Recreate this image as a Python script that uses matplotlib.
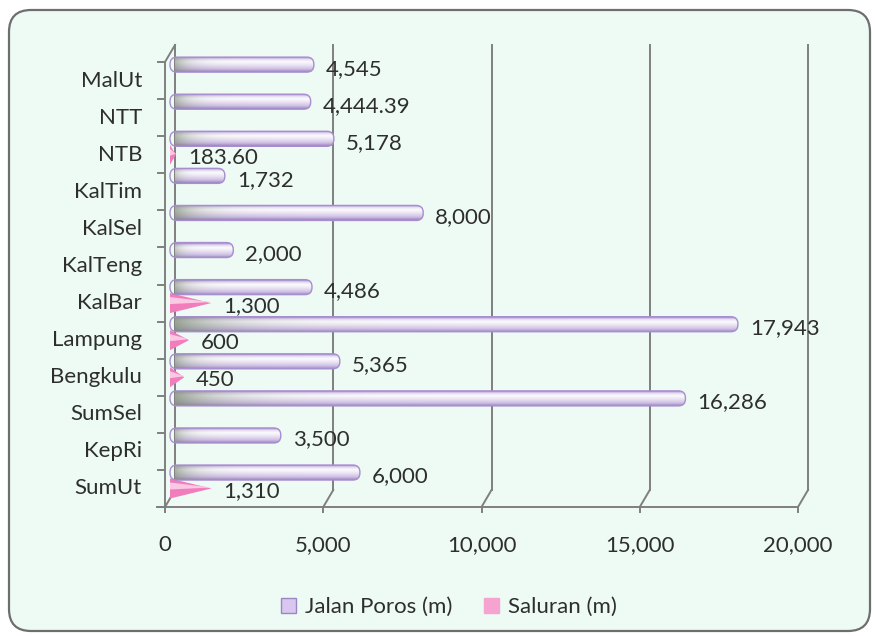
import numpy as np
import matplotlib
matplotlib.use("Agg")
import matplotlib.pyplot as plt
import matplotlib.patches as ptc
from matplotlib.colors import to_rgb

plt.rcParams['font.family'] = ['Lato', 'DejaVu Sans']

# Donnees (de bas en haut)
provinsi = ["SumUt", "KepRi", "SumSel", "Bengkulu", "Lampung", "KalBar",
            "KalTeng", "KalSel", "KalTim", "NTB", "NTT", "MalUt"]
jalan_poros = [6000, 3500, 16286, 5365, 17943, 4486, 2000, 8000, 1732, 5178, 4444.39, 4545]
saluran = [1310, None, None, 450, 600, 1300, None, None, None, 183.60, None, None]
xticks = [0, 5000, 10000, 15000, 20000]
legende = ["Jalan Poros (m)", "Saluran (m)"]

W, H = 875, 636
xmax = 20000
px_x = xmax/633.0       # unites x par pixel
px_y = 12/445.0         # unites y par pixel
fs = 16
txt_col = "#2e2e2e"
grid_col = "#7f7f7f"


def fmt(v):
    return f"{v:,.2f}" if v % 1 else f"{v:,.0f}"


def prof(x, y, d):
    # decalage de profondeur : d=0 paroi du fond, d=1 face avant
    return x - 10*px_x*d, y - 17*px_y*d


fig = plt.figure(figsize=(W/100, H/100), dpi=100)
fig.patch.set_facecolor("white")

cadre = ptc.FancyBboxPatch((0.09, 0.05), 8.61, 6.21,
                           boxstyle="round,pad=0,rounding_size=0.22",
                           transform=fig.dpi_scale_trans, facecolor="#eefbf4",
                           edgecolor="#6e6e6e", linewidth=1.6, zorder=-5)
fig.add_artist(cadre)

ax = fig.add_axes([175/W, 1-490/H, 633/W, 445/H])
ax.set_xlim(0, xmax)
ax.set_ylim(0, 12)
ax.axis("off")

# paroi du fond + liaisons au sol
for v in xticks:
    ax.plot([v, v], [0, 12], color=grid_col, lw=1.4, clip_on=False, zorder=1)
    x0, y0 = prof(v, 0, 1)
    ax.plot([v, x0], [0, y0], color=grid_col, lw=1.4, clip_on=False, zorder=1)
    ax.plot([x0, x0], [y0, y0 - 5*px_y], color=grid_col, lw=1.4, clip_on=False)
    ax.text(x0, y0 - 38*px_y, fmt(v), ha="center", va="center", fontsize=fs,
            color=txt_col)

# sol
xa, ya = prof(0, 0, 1)
xb, yb = prof(xmax, 0, 1)
ax.plot([xa - 8*px_x, xb], [ya, yb], color=grid_col, lw=1.4, clip_on=False)

# paroi laterale
xt, yt = prof(0, 12, 1)
ax.plot([xa, xt], [ya, yt], color=grid_col, lw=1.4, clip_on=False)
ax.plot([xt, 0], [yt, 12], color=grid_col, lw=1.4, clip_on=False)
for k in range(13):
    xk, yk = prof(0, k, 1)
    ax.plot([xk - 7*px_x, xk], [yk, yk], color=grid_col, lw=1.4, clip_on=False)

for i, nom in enumerate(provinsi):
    xl, yl = prof(0, i + 0.5, 1)
    ax.text(xl - 23*px_x, yl, nom, ha="right", va="center", fontsize=fs,
            color=txt_col)

# degrade vertical du cylindre
stops = [0.0, 0.12, 0.3, 0.55, 0.8, 1.0]
cols = [to_rgb(c) for c in ["#a98fcf", "#e4daf3", "#ffffff", "#eee7f8", "#d5c6ec", "#a58bc9"]]
ny = 30
tv = np.linspace(0, 1, ny)
profil = np.stack([np.interp(tv, stops, [c[j] for c in cols]) for j in range(3)], axis=1)
sombre = np.array(to_rgb("#7e8c79"))

h_bar = 15*px_y
h_cone = 20*px_y

for i, v in enumerate(jalan_poros):
    x0, yc = prof(0, i + 0.7, 0.5)
    L = v/px_x
    nx = 300
    xs = np.linspace(0, 1, nx)
    w = 0.85*np.exp(-xs*L/(0.085*L + 2))
    img = profil[:, None, :]*(1 - w[None, :, None]) + sombre[None, None, :]*w[None, :, None]
    img = img*(0.9 + 0.1*np.linspace(1, 0.6, ny))[:, None, None]
    bord = ptc.FancyBboxPatch((x0, yc - h_bar/2), v, h_bar,
                              boxstyle=f"round,pad=0,rounding_size={7*px_x}",
                              mutation_aspect=px_y/px_x, facecolor="none",
                              edgecolor="#a88dcf", linewidth=1.0, clip_on=False,
                              zorder=4)
    ax.add_patch(bord)
    im = ax.imshow(np.clip(img, 0, 1), extent=[x0, x0 + v, yc - h_bar/2, yc + h_bar/2],
                   origin="upper", aspect="auto", interpolation="bilinear", zorder=3)
    im.set_clip_path(bord)
    im.set_clip_box(None)
    ax.annotate(fmt(v), (x0 + v, yc), xytext=(12, -4), textcoords="offset pixels",
                ha="left", va="center", fontsize=fs, color=txt_col)

for i, v in enumerate(saluran):
    if v is None:
        continue
    x0, yc = prof(0, i + 0.27, 0.5)
    ax.fill([x0, x0 + v, x0], [yc + h_cone/2, yc, yc - h_cone/2],
            color="#f27dbd", lw=0, clip_on=False, zorder=3)
    ax.fill([x0, x0 + v, x0], [yc + h_cone/2*0.6, yc + h_cone*0.05, yc - h_cone*0.05],
            color="#fbc9e3", lw=0, clip_on=False, zorder=3)
    ax.annotate(fmt(v), (x0 + v, yc), xytext=(12, -3), textcoords="offset pixels",
                ha="left", va="center", fontsize=fs, color=txt_col)

ax.set_xlim(0, xmax)
ax.set_ylim(0, 12)

poignees = [ptc.Patch(facecolor="#d8c8f0", edgecolor="#9c86c6"),
            ptc.Patch(facecolor="#f7a3cf", edgecolor="#f7a3cf")]
fig.legend(poignees, legende, loc="center", bbox_to_anchor=(0.513, 1 - 607/H),
           ncol=2, frameon=False, fontsize=fs, handlelength=0.65, handleheight=0.65,
           handletextpad=0.4, columnspacing=1.45, labelcolor=txt_col)

fig.savefig("out.png", dpi=100)
